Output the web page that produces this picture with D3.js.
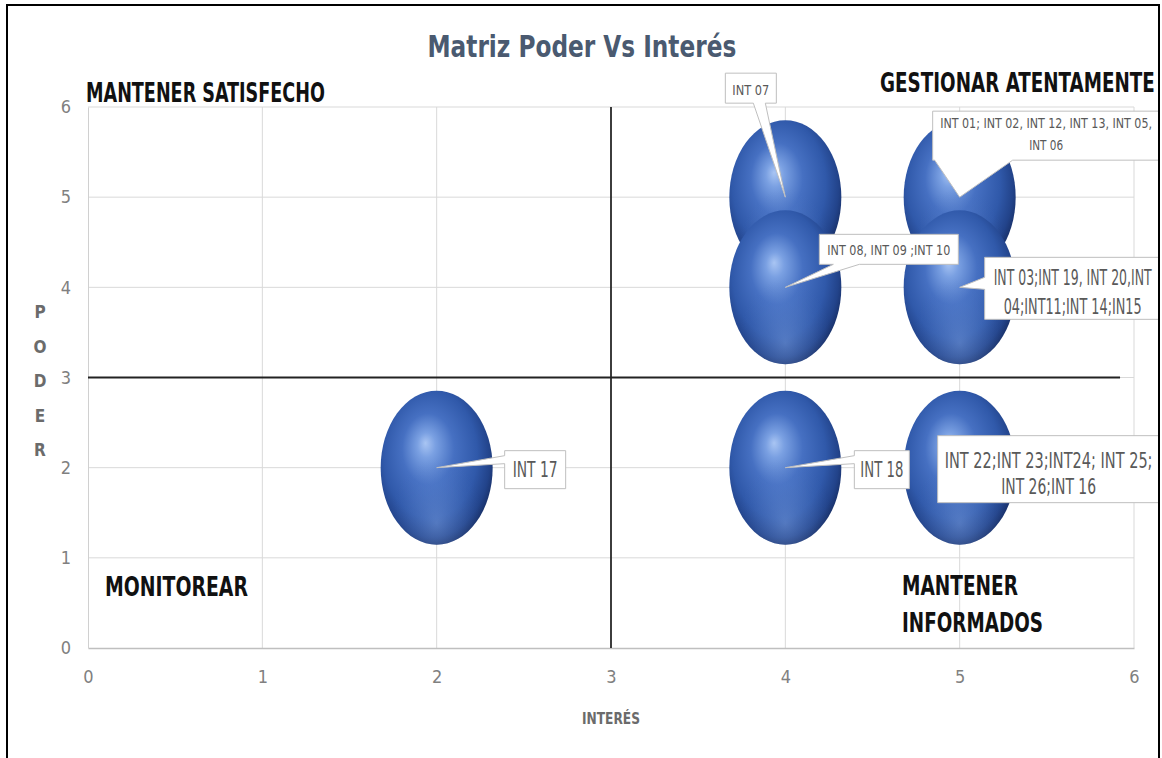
<!DOCTYPE html>
<html>
<head>
<meta charset="utf-8">
<script src="https://cdn.jsdelivr.net/npm/d3@7"></script>
<style>
  html, body { margin: 0; padding: 0; background: #ffffff; }
  svg { display: block; }
  .narrow { font-family: "Liberation Sans Narrow", "Arial Narrow", "DejaVu Sans Condensed", "Liberation Sans", sans-serif; }
</style>
</head>
<body>
<svg id="chart" width="1162" height="758"></svg>
<script>
// ---- data ----
const interes = [4, 5, 4, 5, 2, 4, 5];          // x: Interés
const poder   = [5, 5, 4, 4, 2, 2, 2];          // y: Poder
const bubbleSize = [1, 1, 1, 1, 1, 1, 1];
const bubbleLabels = [
  ["INT 07"],
  ["INT 01; INT 02, INT 12, INT 13, INT 05,", "INT 06"],
  ["INT 08, INT 09 ;INT 10"],
  ["INT 03;INT 19, INT 20,INT", "04;INT11;INT 14;IN15"],
  ["INT 17"],
  ["INT 18"],
  ["INT 22;INT 23;INT24; INT 25;", "INT 26;INT 16"]
];
const xTicks = [0, 1, 2, 3, 4, 5, 6];
const yTicks = [0, 1, 2, 3, 4, 5, 6];
const quadrantLabels = [
  ["MANTENER SATISFECHO"],
  ["GESTIONAR ATENTAMENTE"],
  ["MONITOREAR"],
  ["MANTENER", "INFORMADOS"]
];
const chartTitle = "Matriz Poder Vs Interés";
const xTitle = "INTERÉS";
const yTitle = "PODER";
const splitX = 3, splitY = 3;

// ---- layout ----
const W = 1162, H = 758;
const plot = { left: 88, right: 1134, top: 107, bottom: 648 };

// callout boxes, offsets relative to the bubble centre; text centre shifted by tdx
const calloutLayout = [
  { dx: -60, dy: -124, w: 51,  h: 30, fs: 14, lens: [37],       base: [22],      tdx: 0,  side: "bottom", a: 28, b: 40 },
  { dx: -27, dy: -86,  w: 235, h: 49, fs: 14, lens: [212, 34],  base: [17, 39],  tdx: -4, side: "bottom", a: 2,  b: 80 },
  { dx: 34,  dy: -53,  w: 139, h: 30, fs: 14, lens: [123],      base: [21],      tdx: 0,  side: "bottom", a: 14, b: 40 },
  { dx: 25,  dy: -30,  w: 182, h: 62, fs: 21, lens: [158, 138], base: [28, 57],  tdx: -3, side: "left",   a: 20, b: 32 },
  { dx: 68,  dy: -17,  w: 61,  h: 38, fs: 22, lens: [45],       base: [26],      tdx: 0,  side: "left",   a: 5,  b: 13 },
  { dx: 69,  dy: -17,  w: 55,  h: 38, fs: 22, lens: [43],       base: [26],      tdx: 0,  side: "left",   a: 5,  b: 13 },
  { dx: -22, dy: -32,  w: 230, h: 67, fs: 22, lens: [208, 95],  base: [32, 58],  tdx: -4, side: null }
];
const quadLayout = [
  { x: 86,  y: 102, fs: 26, lens: [239], lh: 0 },
  { x: 880, y: 92,  fs: 26, lens: [275], lh: 0 },
  { x: 105, y: 596, fs: 26, lens: [143], lh: 0 },
  { x: 902, y: 595, fs: 26, lens: [116, 141], lh: 37 }
];

const svg = d3.select("#chart");
const defs = svg.append("defs");

defs.append("clipPath").attr("id", "frameClip")
  .append("rect").attr("x", 8).attr("y", 6).attr("width", 1150).attr("height", H);

// sphere shading
const g1 = defs.append("radialGradient").attr("id", "ball")
  .attr("cx", 0.46).attr("cy", 0.44).attr("r", 0.58).attr("fx", 0.4).attr("fy", 0.34);
[[0, "#a9c5f3"], [0.14, "#7aa0e2"], [0.4, "#4670c2"], [0.72, "#3059aa"], [0.9, "#22438a"], [1, "#182f66"]]
  .forEach(([o, c]) => g1.append("stop").attr("offset", o).attr("stop-color", c));
const g2 = defs.append("radialGradient").attr("id", "ballGlow")
  .attr("cx", 0.5).attr("cy", 0.86).attr("r", 0.42);
[[0, "#8fb2ee", 0.4], [0.6, "#6f96dc", 0.16], [1, "#4a72c0", 0]]
  .forEach(([o, c, op]) => g2.append("stop").attr("offset", o).attr("stop-color", c).attr("stop-opacity", op));

// squeeze a text horizontally to a given width (anchor: "start" | "middle")
function fitText(parent, str, px, py, width, anchor, attrs) {
  const t = parent.append("text").attr("class", "narrow").attr("x", 0).attr("y", 0).text(str);
  Object.entries(attrs).forEach(([k, v]) => t.attr(k, v));
  const natural = t.node().getComputedTextLength();
  const k = width / natural;
  const ox = anchor === "middle" ? px - width / 2 : px;
  t.attr("transform", `translate(${ox},${py}) scale(${k},1)`);
  return t;
}

// ---- scales ----
const x = d3.scaleLinear().domain([0, 6]).range([plot.left, plot.right]);
const y = d3.scaleLinear().domain([0, 6]).range([plot.bottom, plot.top]);
const r = d3.scaleSqrt().domain([0, 1]).range([0, 56]);
const aspect = 1.375;

const root = svg.append("g").attr("clip-path", "url(#frameClip)");

// gridlines
const grid = root.append("g");
grid.selectAll("line.gx").data(xTicks.filter(t => t > 0)).join("line")
  .attr("x1", d => x(d)).attr("x2", d => x(d))
  .attr("y1", plot.top).attr("y2", plot.bottom)
  .attr("stroke", "#d9d9d9").attr("stroke-width", 1);
grid.selectAll("line.gy").data(yTicks.filter(t => t > 0)).join("line")
  .attr("x1", plot.left).attr("x2", plot.right)
  .attr("y1", d => y(d)).attr("y2", d => y(d))
  .attr("stroke", "#d9d9d9").attr("stroke-width", 1);

// axes
const fmt = d3.format("d");
const xAxis = d3.axisBottom(x).tickValues(xTicks).tickFormat(fmt).tickSize(0).tickPadding(22);
const yAxis = d3.axisLeft(y).tickValues(yTicks).tickFormat(fmt).tickSize(0).tickPadding(17);
const gx = root.append("g").attr("transform", `translate(0,${plot.bottom})`).call(xAxis);
const gy = root.append("g").attr("transform", `translate(${plot.left},0)`).call(yAxis);
gx.select(".domain").attr("stroke", "#bfbfbf").attr("stroke-width", 1.5);
gy.select(".domain").attr("stroke", "#d0d0d0").attr("stroke-width", 1);
[gx, gy].forEach(g => g.selectAll("text")
  .attr("class", "narrow").attr("font-size", 18).attr("fill", "#808080"));
gy.selectAll("text").attr("dy", "0.32em");

// quadrant dividers
root.append("line")
  .attr("x1", x(splitX)).attr("x2", x(splitX))
  .attr("y1", plot.top).attr("y2", plot.bottom)
  .attr("stroke", "#111").attr("stroke-width", 1.6);
root.append("line")
  .attr("x1", plot.left).attr("x2", x(5.92))
  .attr("y1", y(splitY)).attr("y2", y(splitY))
  .attr("stroke", "#222").attr("stroke-width", 2);

// bubbles
const pts = interes.map((v, i) => ({ i, x: v, y: poder[i], s: bubbleSize[i], lines: bubbleLabels[i], L: calloutLayout[i] }));
const bub = root.append("g").selectAll("g").data(pts).join("g");
bub.append("ellipse")
  .attr("cx", d => x(d.x)).attr("cy", d => y(d.y))
  .attr("rx", d => r(d.s)).attr("ry", d => r(d.s) * aspect)
  .attr("fill", "url(#ball)");
bub.append("ellipse")
  .attr("cx", d => x(d.x)).attr("cy", d => y(d.y))
  .attr("rx", d => r(d.s)).attr("ry", d => r(d.s) * aspect)
  .attr("fill", "url(#ballGlow)");

// callouts
function calloutPath(d) {
  const tx = x(d.x), ty = y(d.y), L = d.L;
  const x0 = tx + L.dx, y0 = ty + L.dy, x1 = x0 + L.w, y1 = y0 + L.h;
  const p = [[x0, y0], [x1, y0], [x1, y1]];
  if (L.side === "bottom") {
    p.push([x0 + L.b, y1], [tx, ty], [x0 + L.a, y1], [x0, y1]);
  } else if (L.side === "left") {
    p.push([x0, y1], [x0, y0 + L.b], [tx, ty], [x0, y0 + L.a]);
  } else {
    p.push([x0, y1]);
  }
  return "M" + p.map(q => q.join(",")).join("L") + "Z";
}
const co = root.append("g").selectAll("g").data(pts).join("g");
co.append("path")
  .attr("d", calloutPath)
  .attr("fill", "#ffffff").attr("stroke", "#bfbfbf").attr("stroke-width", 1);
co.each(function (d) {
  const g = d3.select(this), L = d.L;
  const cx = x(d.x) + L.dx + L.w / 2 + L.tdx, top = y(d.y) + L.dy;
  d.lines.forEach((t, k) => {
    fitText(g, t, cx, top + L.base[k], L.lens[k], "middle",
      { "font-size": L.fs, fill: "#595959" });
  });
});

// quadrant names
quadrantLabels.forEach((lines, i) => {
  const L = quadLayout[i];
  lines.forEach((t, k) => {
    fitText(root, t, L.x, L.y + k * L.lh, L.lens[k], "start",
      { "font-size": L.fs, "font-weight": "bold", fill: "#111" });
  });
});

// title
fitText(root, chartTitle, 582, 57, 309, "middle",
  { "font-size": 31, "font-weight": "bold", fill: "#4a5a70" });

// axis titles
fitText(root, xTitle, x(3), 724, 58, "middle",
  { "font-size": 16, "font-weight": "bold", fill: "#6b6b6b" });
root.append("g").selectAll("text").data(yTitle.split("")).join("text")
  .attr("class", "narrow")
  .attr("x", 40).attr("y", (d, i) => 318 + i * 34.5).attr("text-anchor", "middle")
  .attr("font-size", 17).attr("font-weight", "bold").attr("fill", "#6b6b6b")
  .text(d => d);

// outer frame
svg.append("path")
  .attr("d", `M7,${H + 2}V5H1159V${H + 2}`)
  .attr("fill", "none").attr("stroke", "#000").attr("stroke-width", 2);
</script>
</body>
</html>
